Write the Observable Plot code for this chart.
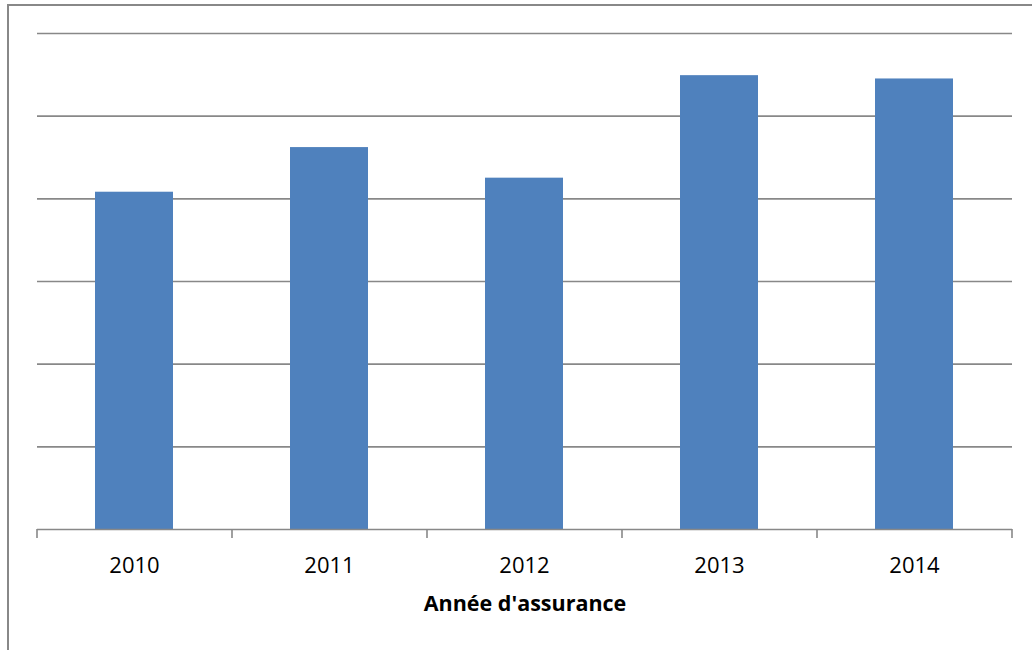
<!DOCTYPE html>
<html>
<head>
<meta charset="utf-8">
<script src="https://cdn.jsdelivr.net/npm/d3@7"></script>
<script src="https://cdn.jsdelivr.net/npm/@observablehq/plot@0.6"></script>
<style>
  html, body { margin: 0; padding: 0; background: #fff; }
  #wrap { position: relative; width: 1032px; height: 650px; overflow: hidden; }
  #frame {
    position: absolute; left: 7px; top: 4px; width: 1100px; height: 700px;
    border-left: 2px solid #888; border-top: 2px solid #888; pointer-events: none;
  }
  #wrap svg { display: block; }
</style>
</head>
<body>
<div id="wrap"><div id="frame"></div></div>
<script>
// Insurance years and bar heights (in gridline units; the value axis is unlabeled)
const years = ["2010", "2011", "2012", "2013", "2014"];
const values = [4.08, 4.62, 4.25, 5.49, 5.45];
const gridLevels = [1, 2, 3, 4, 5, 6];
const xTitle = "Année d'assurance";

const width = 1032, height = 650;
const marginLeft = 37, marginRight = 20, marginTop = 33, marginBottom = 121;
const step = (width - marginLeft - marginRight) / years.length;

const data = years.map((year, i) => ({year, value: values[i]}));
const gridColor = "#888";

const chart = Plot.plot({
  width, height, marginLeft, marginRight, marginTop, marginBottom,
  style: {fontFamily: "'Open Sans', 'Noto Sans', sans-serif", fontSize: "22px", color: "#000", background: "#fff"},
  x: {domain: years, paddingInner: 0.6, paddingOuter: 0.3, label: null},
  y: {domain: [0, 6], axis: null},
  marks: [
    Plot.ruleY(gridLevels, {stroke: gridColor, strokeWidth: 1.6, strokeOpacity: 1}),
    Plot.barY(data, {x: "year", y: "value", fill: "#4f81bd"}),
    Plot.ruleY([0], {stroke: gridColor, strokeWidth: 1.6}),
    // category labels
    Plot.axisX({tickSize: 0, tickPadding: 28, fontSize: 22, fill: "#000"}),
    // tick marks on the category boundaries
    Plot.axisX(years, {tickSize: 9, tickFormat: null, dx: -step / 2, stroke: gridColor, strokeWidth: 1.6, label: null}),
    Plot.axisX([years[years.length - 1]], {tickSize: 9, tickFormat: null, dx: step / 2, stroke: gridColor, strokeWidth: 1.6, label: null}),
    // axis title
    Plot.text([xTitle], {frameAnchor: "bottom", lineAnchor: "middle", dy: 75, fontWeight: "bold", fontSize: 21.5, fill: "#000"})
  ]
});

document.getElementById("wrap").prepend(chart);
</script>
</body>
</html>
